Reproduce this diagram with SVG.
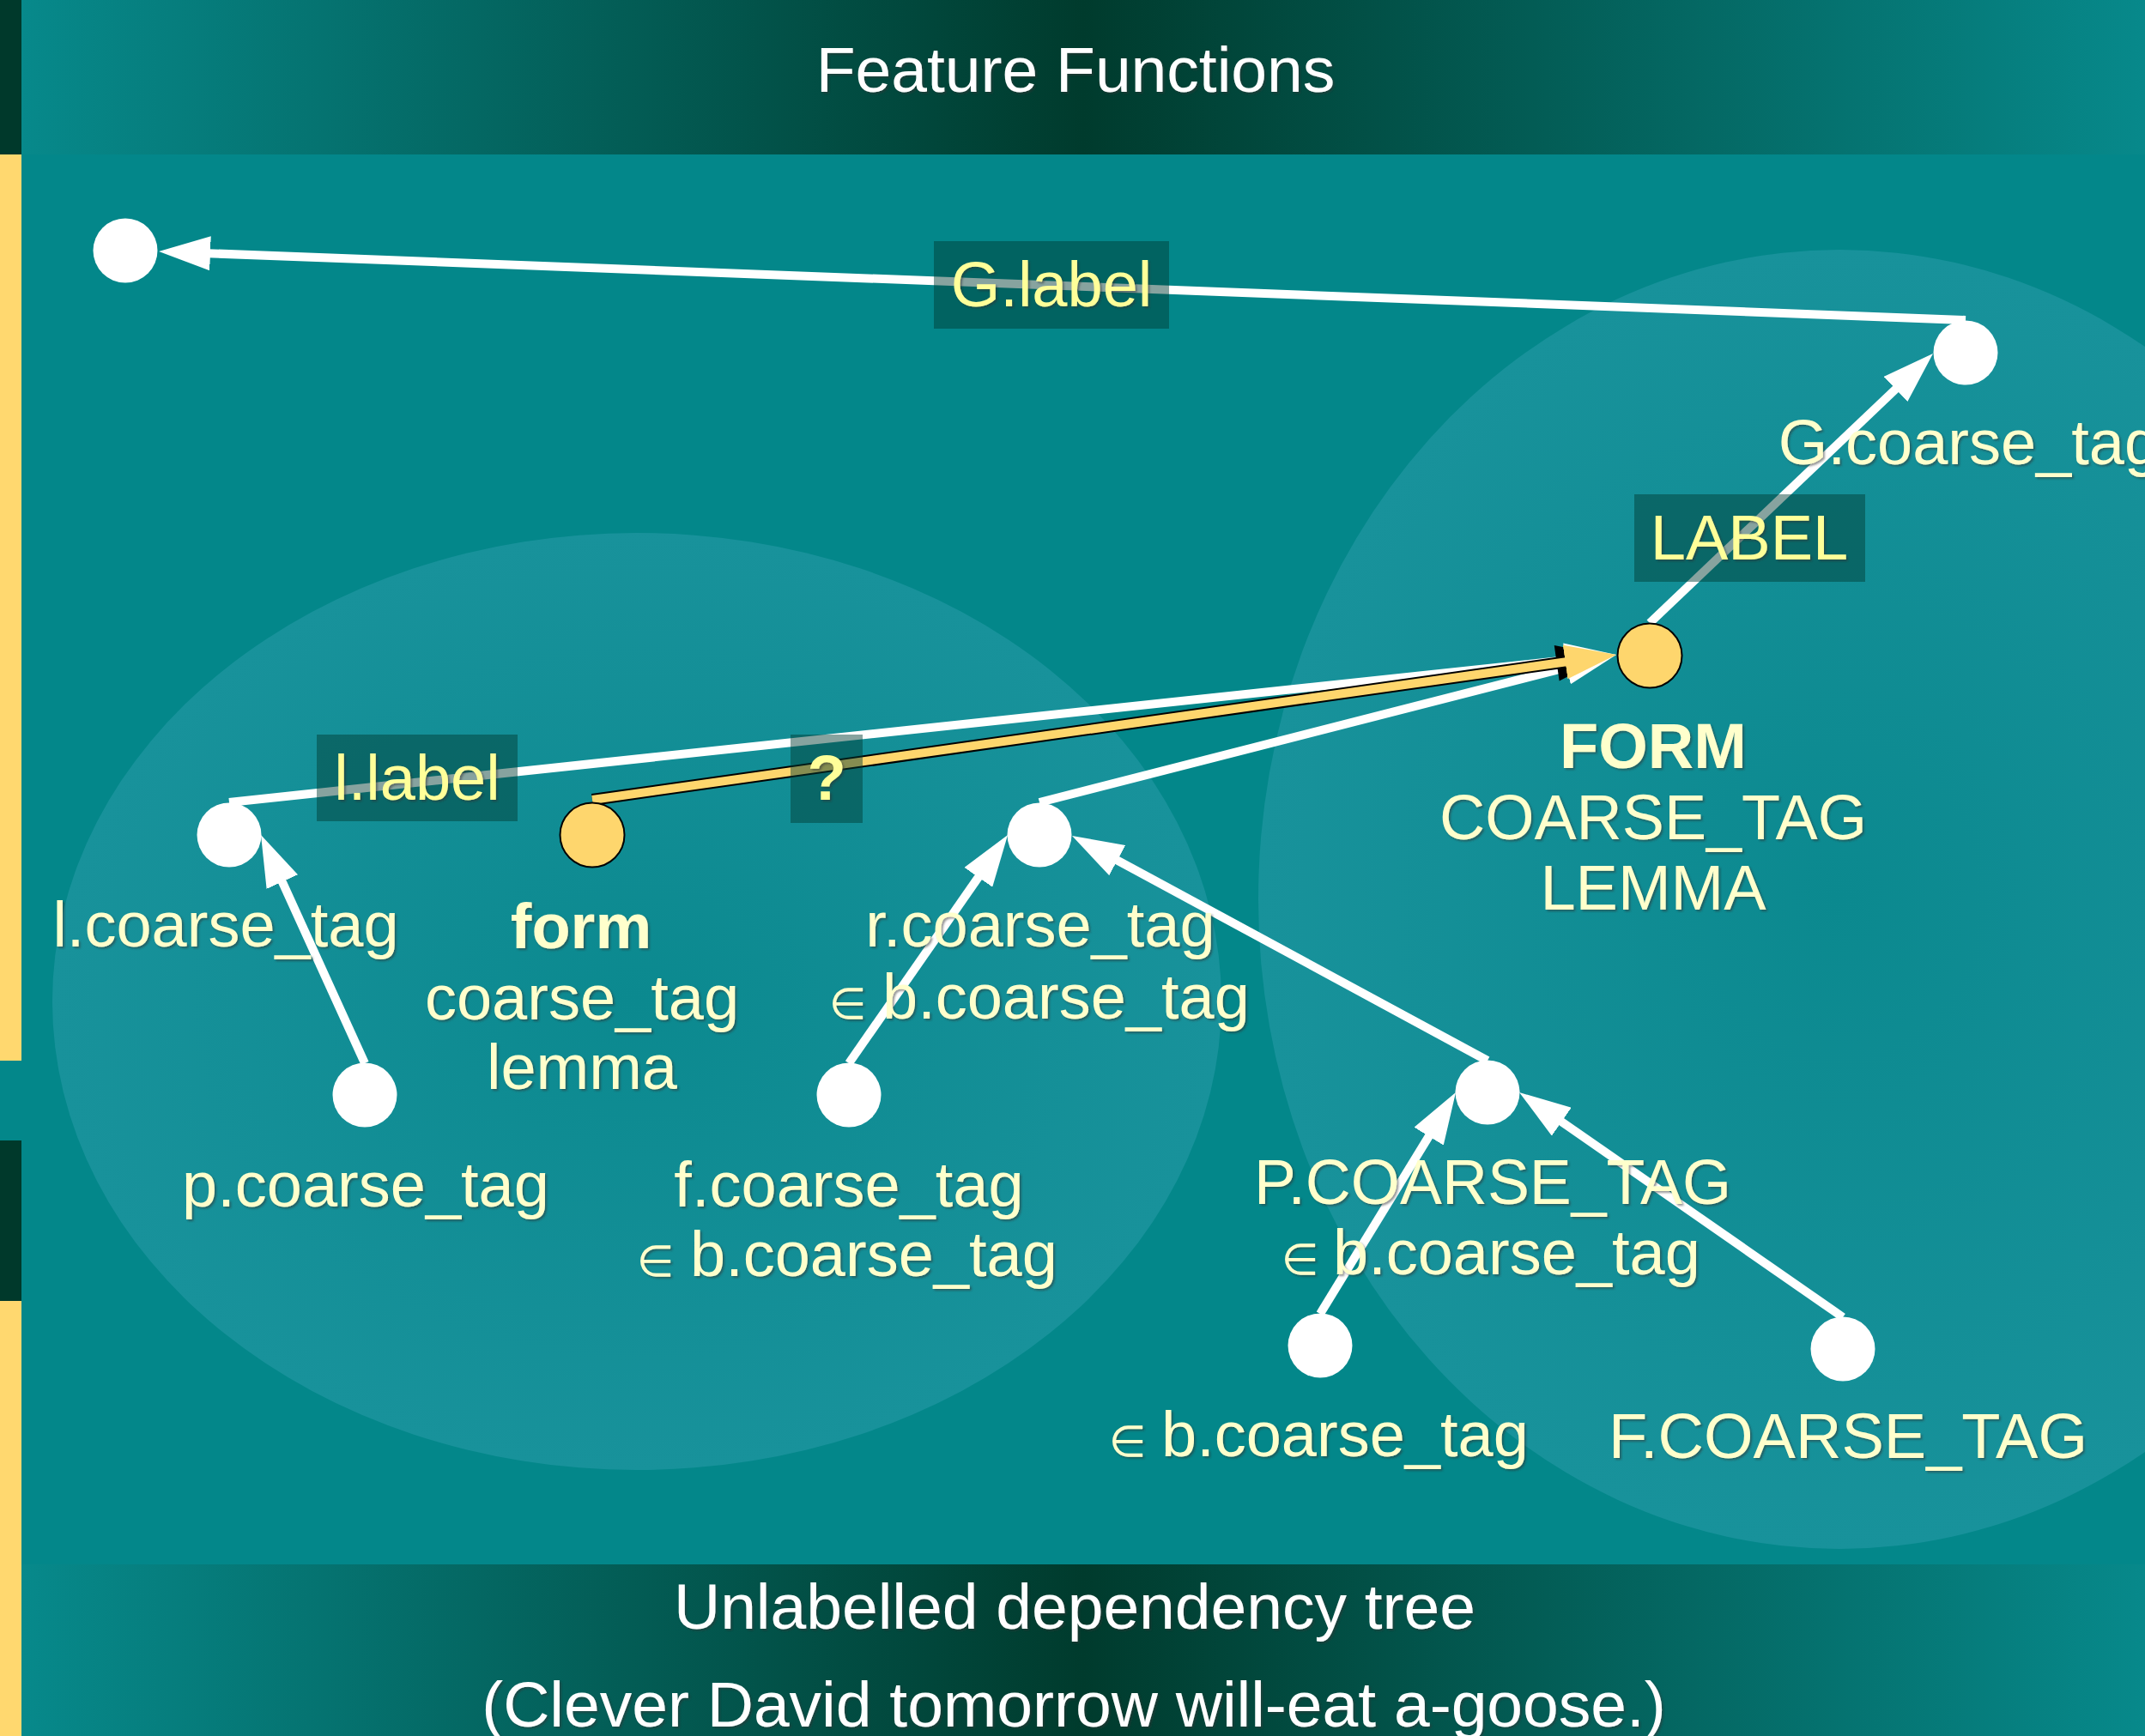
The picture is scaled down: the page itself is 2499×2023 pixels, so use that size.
<svg xmlns="http://www.w3.org/2000/svg" width="2499" height="2023" viewBox="0 0 2499 2023">
<style>
.lbl{font-family:"Liberation Sans",Arial,sans-serif;font-size:74px;fill:#FFFFCC;text-anchor:middle;filter:url(#sh)}
.st{text-anchor:start}
.b{font-weight:bold}
.bxt{font-family:"Liberation Sans",Arial,sans-serif;font-size:74px;fill:#FFFF99;text-anchor:middle;filter:url(#sh)}
.ttl{font-family:"Liberation Sans",Arial,sans-serif;font-size:75px;fill:#FFFFFF;text-anchor:middle;filter:url(#sh)}
.el{font-family:"DejaVu Sans",sans-serif;font-size:50px}
.box{fill:#003C32;fill-opacity:0.47}
.node{fill:#FFFFFF}
.ynode{fill:#FED66D;stroke:#000;stroke-width:2}
.wl{stroke:#FFFFFF;stroke-width:10;fill:none;marker-end:url(#ah)}
</style>
<defs>
<linearGradient id="band" x1="0" y1="0" x2="1" y2="0">
<stop offset="0" stop-color="#07898B"/>
<stop offset="0.5" stop-color="#003B2D"/>
<stop offset="1" stop-color="#07898B"/>
</linearGradient>
<radialGradient id="blob" cx="0.5" cy="0.5" r="0.5">
<stop offset="0" stop-color="#0B898F"/>
<stop offset="1" stop-color="#18929B"/>
</radialGradient>
<filter id="sh" x="-5%" y="-20%" width="110%" height="140%">
<feDropShadow dx="2" dy="2" stdDeviation="1" flood-color="#303030" flood-opacity="0.5"/>
</filter>
<marker id="ah" markerUnits="userSpaceOnUse" markerWidth="60" markerHeight="40" viewBox="0 0 60 40" refX="10" refY="20" orient="auto">
<path d="M0,0 L60,20 L0,40 z" fill="#FFFFFF"/>
</marker>
<marker id="ahk" markerUnits="userSpaceOnUse" markerWidth="72" markerHeight="46" viewBox="-12 -3 72 46" refX="10" refY="20" orient="auto">
<path d="M-10,-1 L50,20 L-10,41 z" fill="#000000"/>
</marker>
<marker id="ahy" markerUnits="userSpaceOnUse" markerWidth="60" markerHeight="40" viewBox="0 0 60 40" refX="10" refY="20" orient="auto">
<path d="M0,0 L60,20 L0,40 z" fill="#FED66D"/>
</marker>
</defs>

<rect x="0" y="0" width="2499" height="2023" fill="#03878A"/>

<g id="background">
<ellipse cx="742" cy="1167" rx="681" ry="546" fill="url(#blob)"/>
<ellipse cx="2143" cy="1048" rx="677" ry="757" fill="url(#blob)"/>
<rect x="25" y="0" width="2474" height="180" fill="url(#band)"/>
<rect x="25" y="1823" width="2474" height="200" fill="url(#band)"/>
<rect x="0" y="0" width="25" height="180" fill="#00392B"/>
<rect x="0" y="180" width="25" height="1056" fill="#FFD86F"/>
<rect x="0" y="1329" width="25" height="187" fill="#00392B"/>
<rect x="0" y="1516" width="25" height="507" fill="#FFD86F"/>
<text class="ttl" x="1253" y="107">Feature Functions</text>
<text class="ttl" x="1252" y="1898">Unlabelled dependency tree</text>
<text class="ttl" x="1251" y="2012">(Clever David tomorrow will-eat a-goose.)</text>
</g>

<g id="connectors">
<line class="wl" x1="2290" y1="373" x2="235" y2="294.9"/>
<line class="wl" x1="1922" y1="726" x2="2215.8" y2="446.5"/>
<line class="wl" x1="267" y1="935" x2="1833.3" y2="768.3"/>
<line class="wl" x1="1211" y1="935" x2="1834.6" y2="775.4"/>
<line x1="690" y1="932" x2="1833.5" y2="770" stroke="#000" stroke-width="14" marker-end="url(#ahk)"/>
<line x1="690" y1="932" x2="1833.5" y2="770" stroke="#FED66D" stroke-width="10" marker-end="url(#ahy)"/>
<line class="wl" x1="425" y1="1239" x2="324.7" y2="1018.5"/>
<line class="wl" x1="989" y1="1239" x2="1145.5" y2="1014.1"/>
<line class="wl" x1="1733" y1="1236" x2="1293" y2="997.8"/>
<line class="wl" x1="1538" y1="1531" x2="1669.9" y2="1315.6"/>
<line class="wl" x1="2147" y1="1535" x2="1811.1" y2="1301.5"/>
</g>

<g id="edge-labels">
<g id="lab-G"><rect class="box" x="1088" y="281" width="274" height="102"/><text class="bxt" x="1225" y="357">G.label</text></g>
<g id="lab-LABEL"><rect class="box" x="1904" y="576" width="269" height="102"/><text class="bxt" x="2038" y="652">LABEL</text></g>
<g id="lab-l"><rect class="box" x="369" y="856" width="234" height="101"/><text class="bxt" x="486" y="932">l.label</text></g>
<g id="lab-q"><rect class="box" x="921" y="856" width="84" height="103"/><text class="bxt b" x="963" y="932">?</text></g>
</g>

<g id="node-root"><circle class="node" cx="146" cy="292" r="37.5"/></g>
<g id="node-G"><circle class="node" cx="2290" cy="411" r="37.5"/><text class="lbl" x="2294" y="541">G.coarse_tag</text></g>
<g id="node-FORM"><circle class="ynode" cx="1922" cy="764" r="37.5"/>
<text class="lbl b" x="1926" y="895">FORM</text>
<text class="lbl" x="1926" y="978" textLength="498" lengthAdjust="spacingAndGlyphs">COARSE_TAG</text>
<text class="lbl" x="1926" y="1060">LEMMA</text></g>
<g id="node-l"><circle class="node" cx="267" cy="973" r="37.5"/><text class="lbl" x="263" y="1103">l.coarse_tag</text></g>
<g id="node-form"><circle class="ynode" cx="690" cy="973" r="37.5"/>
<text class="lbl b" x="677" y="1105">form</text>
<text class="lbl" x="678" y="1188">coarse_tag</text>
<text class="lbl" x="678" y="1269">lemma</text></g>
<g id="node-r"><circle class="node" cx="1211" cy="973" r="37.5"/>
<text class="lbl" x="1212" y="1103">r.coarse_tag</text>
<text class="lbl st" y="1187"><tspan class="el" x="966">∈</tspan><tspan x="1028">b.coarse_tag</tspan></text></g>
<g id="node-p"><circle class="node" cx="425" cy="1276" r="37.5"/><text class="lbl" x="426" y="1406">p.coarse_tag</text></g>
<g id="node-f"><circle class="node" cx="989" cy="1276" r="37.5"/>
<text class="lbl" x="989" y="1406">f.coarse_tag</text>
<text class="lbl st" y="1487"><tspan class="el" x="742">∈</tspan><tspan x="804">b.coarse_tag</tspan></text></g>
<g id="node-P"><circle class="node" cx="1733" cy="1273" r="37.5"/>
<text class="lbl" x="1739" y="1403" textLength="556" lengthAdjust="spacingAndGlyphs">P.COARSE_TAG</text>
<text class="lbl st" y="1485"><tspan class="el" x="1493">∈</tspan><tspan x="1553">b.coarse_tag</tspan></text></g>
<g id="node-b"><circle class="node" cx="1538" cy="1568" r="37.5"/>
<text class="lbl st" y="1697"><tspan class="el" x="1292">∈</tspan><tspan x="1353">b.coarse_tag</tspan></text></g>
<g id="node-F"><circle class="node" cx="2147" cy="1572" r="37.5"/>
<text class="lbl" x="2153" y="1699" textLength="558" lengthAdjust="spacingAndGlyphs">F.COARSE_TAG</text></g>
</svg>
